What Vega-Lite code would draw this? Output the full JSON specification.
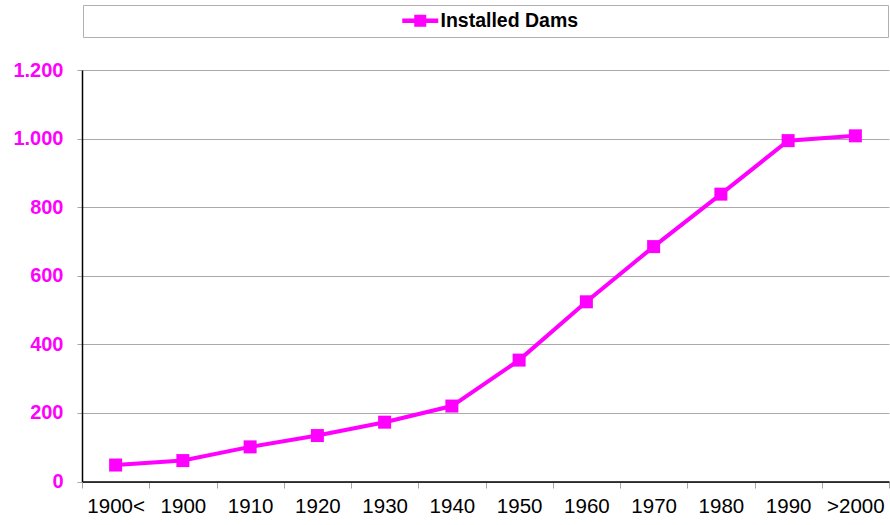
{
  "$schema": "https://vega.github.io/schema/vega-lite/v6.json",
  "width": 807,
  "height": 411.5,
  "autosize": {"type": "none"},
  "padding": {"left": 82, "top": 70, "right": 1, "bottom": 43.5},
  "background": "white",
  "config": {
    "view": {"stroke": null},
    "font": "Liberation Sans"
  },
  "data": {
    "values": [
      {"period": "1900<", "dams": 48, "series": "Installed Dams"},
      {"period": "1900", "dams": 61, "series": "Installed Dams"},
      {"period": "1910", "dams": 101, "series": "Installed Dams"},
      {"period": "1920", "dams": 134, "series": "Installed Dams"},
      {"period": "1930", "dams": 173, "series": "Installed Dams"},
      {"period": "1940", "dams": 220, "series": "Installed Dams"},
      {"period": "1950", "dams": 354, "series": "Installed Dams"},
      {"period": "1960", "dams": 524, "series": "Installed Dams"},
      {"period": "1970", "dams": 685, "series": "Installed Dams"},
      {"period": "1980", "dams": 838, "series": "Installed Dams"},
      {"period": "1990", "dams": 994, "series": "Installed Dams"},
      {"period": ">2000", "dams": 1008, "series": "Installed Dams"}
    ]
  },
  "encoding": {
    "x": {
      "field": "period",
      "type": "nominal",
      "sort": null,
      "scale": {"type": "band", "paddingInner": 0, "paddingOuter": 0},
      "axis": {
        "title": null,
        "labelAngle": 0,
        "labelFont": "Liberation Sans",
        "labelFontSize": 20.5,
        "labelColor": "black",
        "labelPadding": 8.5,
        "tickBand": "extent",
        "tickColor": "#a6a6a6",
        "tickSize": 6.5,
        "domainColor": "black",
        "domainWidth": 1.5,
        "grid": false
      }
    },
    "y": {
      "field": "dams",
      "type": "quantitative",
      "scale": {"domain": [0, 1200], "nice": false},
      "axis": {
        "title": null,
        "values": [0, 200, 400, 600, 800, 1000, 1200],
        "labelExpr": "replace(format(datum.value, ','), ',', '.')",
        "labelFont": "Liberation Sans",
        "labelFontSize": 20,
        "labelFontWeight": "bold",
        "labelColor": "#FF00FF",
        "labelPadding": 14,
        "tickColor": "#a6a6a6",
        "tickSize": 5,
        "domainColor": "black",
        "domainWidth": 1.5,
        "grid": true,
        "gridColor": "#aaaaaa",
        "gridWidth": 1
      }
    },
    "color": {
      "field": "series",
      "type": "nominal",
      "scale": {"range": ["#FF00FF"]},
      "legend": {
        "orient": "none",
        "legendX": 1,
        "legendY": -65,
        "direction": "horizontal",
        "title": "\u00a0",
        "titleOrient": "right",
        "titlePadding": 304,
        "titleFontSize": 18,
        "strokeColor": "#b0b0b0",
        "fillColor": "white",
        "padding": 6,
        "symbolType": "M-3,-0.375L3,-0.375L3,0.375L-3,0.375Z M-1,-1L1,-1L1,1L-1,1Z",
        "symbolSize": 144,
        "symbolStrokeWidth": 0,
        "symbolFillColor": "#FF00FF",
        "symbolOffset": 321.5,
        "labelOffset": 10.5,
        "labelFont": "Liberation Sans",
        "labelFontSize": 19.5,
        "labelFontWeight": "bold",
        "labelColor": "black"
      }
    }
  },
  "layer": [
    {"mark": {"type": "line", "strokeWidth": 4}},
    {"mark": {"type": "square", "size": 169, "filled": true, "opacity": 1}}
  ]
}
